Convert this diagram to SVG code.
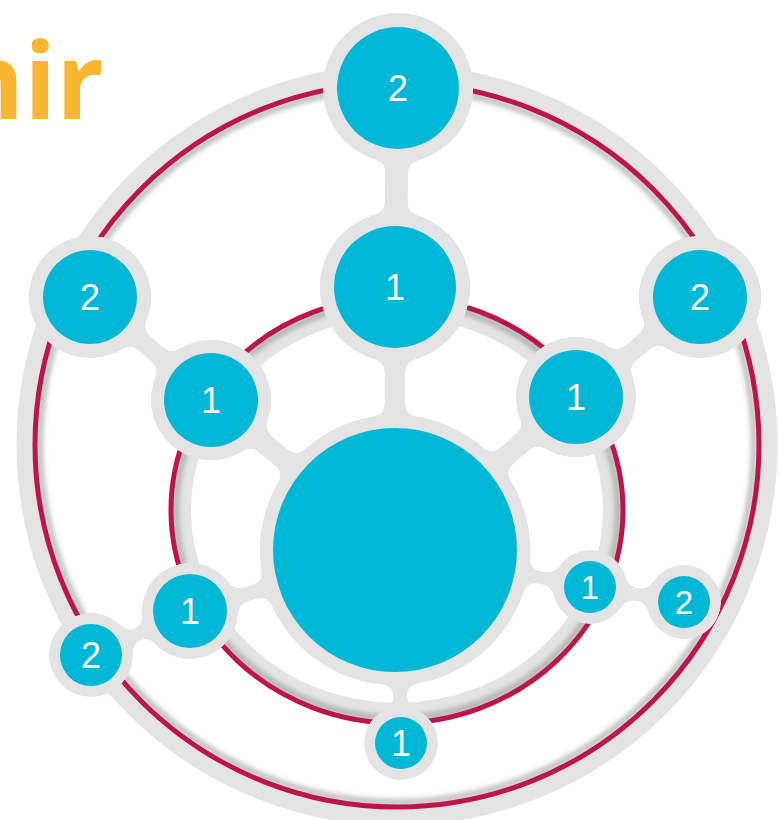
<svg xmlns="http://www.w3.org/2000/svg" width="780" height="820" viewBox="0 0 780 820">
<style>
.num{font-family:"Liberation Sans",Arial,sans-serif;font-size:36px;fill:#ffffff;text-anchor:middle}
.small{font-size:33px}
.cy{fill:#00b8d6}
.gr{fill:#e4e4e4}
.lk{stroke:#e4e4e4;stroke-linecap:round;fill:none}
</style>
<defs>
<filter id="goo" filterUnits="userSpaceOnUse" x="0" y="0" width="780" height="820" color-interpolation-filters="sRGB">
<feGaussianBlur in="SourceGraphic" stdDeviation="6" result="b"/>
<feColorMatrix in="b" type="matrix" values="0 0 0 0 0  0 0 0 0 0  0 0 0 0 0  0 0 0 24 -11" result="t"/>
<feFlood flood-color="#e4e4e4" result="f"/>
<feComposite in="f" in2="t" operator="in"/>
</filter>
<filter id="sh" x="-20%" y="-20%" width="140%" height="140%">
<feGaussianBlur stdDeviation="2.5"/>
</filter>
</defs>
<rect width="780" height="820" fill="#ffffff"/>
<text x="104" y="119" font-family="'Open Sans',sans-serif" font-weight="bold" font-size="105" fill="#fbb631" text-anchor="end">nir</text>
<g id="rings">
<circle cx="397" cy="445" r="371" fill="none" stroke="#e4e4e4" stroke-width="19"/>
<circle cx="397" cy="445" r="357" fill="none" stroke="#8f8f8f" stroke-opacity="0.6" stroke-width="6" filter="url(#sh)"/>
<circle cx="397" cy="445" r="362" fill="none" stroke="#be1548" stroke-width="5"/>
<ellipse cx="397" cy="510" rx="216" ry="203" fill="none" stroke="#e4e4e4" stroke-width="20"/>
<ellipse cx="397" cy="510" rx="221" ry="208" fill="none" stroke="#8f8f8f" stroke-opacity="0.6" stroke-width="6" filter="url(#sh)"/>
<ellipse cx="397" cy="510" rx="226" ry="213" fill="none" stroke="#be1548" stroke-width="5"/>
</g>
<g id="connectors" filter="url(#goo)">
<line class="lk" x1="395" y1="550" x2="395" y2="287" stroke-width="20"/>
<line class="lk" x1="395" y1="287" x2="398" y2="88" stroke-width="22"/>
<line class="lk" x1="395" y1="550" x2="211" y2="400" stroke-width="20"/>
<line class="lk" x1="211" y1="400" x2="90" y2="297" stroke-width="18"/>
<line class="lk" x1="395" y1="550" x2="576" y2="397" stroke-width="20"/>
<line class="lk" x1="576" y1="397" x2="700" y2="297" stroke-width="18"/>
<line class="lk" x1="395" y1="550" x2="190" y2="611" stroke-width="14"/>
<line class="lk" x1="190" y1="611" x2="91" y2="655" stroke-width="12"/>
<line class="lk" x1="395" y1="550" x2="590" y2="587" stroke-width="12"/>
<line class="lk" x1="590" y1="587" x2="684" y2="602" stroke-width="12"/>
<line class="lk" x1="395" y1="550" x2="402" y2="743" stroke-width="13"/>
<circle class="gr" cx="395" cy="550" r="135"/>
<circle class="gr" cx="398" cy="88" r="75"/>
<circle class="gr" cx="395" cy="287" r="75"/>
<circle class="gr" cx="211" cy="400" r="60"/>
<circle class="gr" cx="576" cy="397" r="60"/>
<circle class="gr" cx="90" cy="297" r="61"/>
<circle class="gr" cx="700" cy="297" r="61"/>
<circle class="gr" cx="190" cy="611" r="48"/>
<circle class="gr" cx="91" cy="655" r="42"/>
<circle class="gr" cx="590" cy="587" r="37"/>
<circle class="gr" cx="684" cy="602" r="37"/>
<circle class="gr" cx="401" cy="743" r="37"/>
</g>
<g id="center"><circle class="cy" cx="395" cy="550" r="122"/></g>
<g id="n-top2"><circle class="cy" cx="398" cy="88" r="61"/><text class="num" x="398" y="101">2</text></g>
<g id="n-mid1"><circle class="cy" cx="395" cy="287" r="61"/><text class="num" x="395" y="300">1</text></g>
<g id="n-left1"><circle class="cy" cx="211" cy="400" r="47"/><text class="num" x="211" y="413">1</text></g>
<g id="n-right1"><circle class="cy" cx="576" cy="397" r="47"/><text class="num" x="576" y="410">1</text></g>
<g id="n-left2"><circle class="cy" cx="90" cy="297" r="47"/><text class="num" x="90" y="310">2</text></g>
<g id="n-right2"><circle class="cy" cx="700" cy="297" r="47"/><text class="num" x="700" y="310">2</text></g>
<g id="n-ll1"><circle class="cy" cx="190" cy="611" r="37"/><text class="num" x="190" y="624">1</text></g>
<g id="n-ll2"><circle class="cy" cx="91" cy="655" r="31"/><text class="num" x="91" y="668">2</text></g>
<g id="n-lr1"><circle class="cy" cx="590" cy="587" r="26"/><text class="num small" x="590" y="599">1</text></g>
<g id="n-lr2"><circle class="cy" cx="684" cy="602" r="26"/><text class="num small" x="684" y="614">2</text></g>
<g id="n-b1"><circle class="cy" cx="401" cy="743" r="26"/><text class="num" x="401" y="756">1</text></g>
</svg>
